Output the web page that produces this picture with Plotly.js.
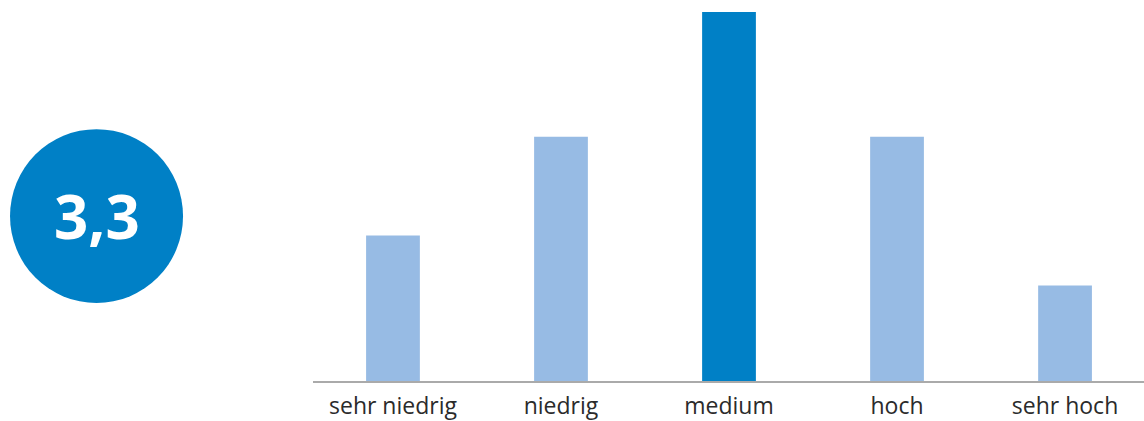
<!DOCTYPE html>
<html>
<head>
<meta charset="utf-8">
<script src="https://cdn.plot.ly/plotly-3.0.1.min.js"></script>
<style>html,body{margin:0;padding:0;background:#fff;}#chart{width:1144px;height:421px;}</style>
</head>
<body>
<div id="chart"></div>
<script>
const categories = ["sehr niedrig", "niedrig", "medium", "hoch", "sehr hoch"];
const values = [13.4, 22.5, 34, 22.5, 8.8];
const barColors = ["#97BBE4", "#97BBE4", "#0080C6", "#97BBE4", "#97BBE4"];
const scoreLabel = "3,3";

const trace = {
  type: "bar",
  x: categories,
  y: values,
  marker: {color: barColors},
  hoverinfo: "skip"
};

const layout = {
  width: 1144,
  height: 421,
  margin: {l: 313, r: 0, t: 0, b: 40},
  paper_bgcolor: "#ffffff",
  plot_bgcolor: "#ffffff",
  bargap: 0.68,
  showlegend: false,
  font: {family: "Open Sans, sans-serif", size: 22, color: "#333333"},
  xaxis: {
    type: "category",
    range: [-0.476, 4.47],
    showline: true,
    linecolor: "#aaaaaa",
    linewidth: 2,
    ticks: "",
    showgrid: false,
    zeroline: false,
    ticklabelstandoff: 3,
    tickfont: {family: "Open Sans, sans-serif", size: 23, color: "#2b2b2b"},
    fixedrange: true
  },
  yaxis: {
    range: [0, 35.1],
    visible: false,
    showgrid: false,
    zeroline: false,
    fixedrange: true
  },
  shapes: [{
    type: "circle",
    xref: "paper", yref: "paper",
    x0: -0.3646, x1: -0.1564,
    y0: 0.2047, y1: 0.661,
    fillcolor: "#0080C6",
    line: {width: 0}
  }],
  annotations: [{
    xref: "paper", yref: "paper",
    x: -0.2605, y: 0.433,
    xanchor: "center", yanchor: "middle",
    text: "<b>" + scoreLabel + "</b>",
    showarrow: false,
    font: {family: "Open Sans, sans-serif", size: 60, color: "#ffffff"}
  }]
};

Plotly.newPlot("chart", [trace], layout, {displayModeBar: false, staticPlot: true});
</script>
</body>
</html>
